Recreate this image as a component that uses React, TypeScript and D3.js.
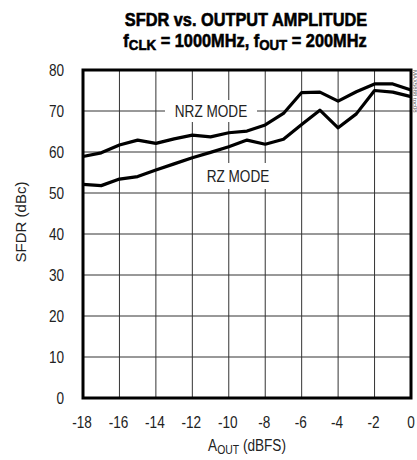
import React from "react";
import * as d3 from "d3";

const xValues = [-18, -17, -16, -15, -14, -13, -12, -11, -10, -9, -8, -7, -6, -5, -4, -3, -2, -1, 0];
const nrzValues = [58.9, 59.8, 61.7, 62.9, 62.1, 63.2, 64.1, 63.7, 64.7, 65.1, 66.6, 69.4, 74.5, 74.6, 72.4, 74.7, 76.6, 76.6, 75.1];
const rzValues = [52.1, 51.8, 53.4, 54.0, 55.6, 57.1, 58.6, 59.9, 61.3, 62.9, 61.9, 63.1, 66.7, 70.2, 65.9, 69.3, 75.0, 74.6, 73.5];
const xTicks = [-18, -16, -14, -12, -10, -8, -6, -4, -2, 0];
const yTicks = [0, 10, 20, 30, 40, 50, 60, 70, 80];

const W = 417;
const H = 460;
const left = 83, right = 411, top = 70, bottom = 398;
const font = "'Liberation Sans', Arial, sans-serif";
const SQ = 0.8;

function T(props: any) {
  const { x, y, s = SQ, children, ...rest } = props;
  return (
    <text transform={`translate(${x},${y}) scale(${s},1)`} fontFamily={font} {...rest}>
      {children}
    </text>
  );
}

export default function App() {
  const x = d3.scaleLinear().domain([-18, 0]).range([left, right]);
  const y = d3.scaleLinear().domain([0, 80]).range([bottom, top]);
  const line = d3
    .line<number>()
    .x((_, i) => x(xValues[i]))
    .y((d) => y(d));

  return (
    <svg
      width={W}
      height={H}
      style={{ position: "absolute", left: 0, top: 0, background: "#fff" }}
    >
      {/* Title */}
      <T x={246} y={26} textAnchor="middle" fontWeight="bold" fontSize={19} s={0.86} stroke="#000" strokeWidth={0.6}>
        SFDR vs. OUTPUT AMPLITUDE
      </T>
      <T x={245} y={47.4} textAnchor="middle" fontWeight="bold" fontSize={19} s={0.86} stroke="#000" strokeWidth={0.6}>
        f<tspan fontSize={15.5} dy={3}>CLK</tspan>
        <tspan dy={-3}> = 1000MHz, f</tspan>
        <tspan fontSize={15.5} dy={3}>OUT</tspan>
        <tspan dy={-3}> = 200MHz</tspan>
      </T>

      {/* Grid */}
      {xTicks.map((t) => (
        <line key={"vx" + t} x1={x(t)} x2={x(t)} y1={top} y2={bottom} stroke="#333" strokeWidth={1} />
      ))}
      {yTicks.map((t) => (
        <line key={"hy" + t} x1={left} x2={right} y1={y(t)} y2={y(t)} stroke="#333" strokeWidth={1} />
      ))}

      {/* Label backgrounds */}
      <rect x={165} y={100} width={92} height={22} fill="#fff" />
      <rect x={200} y={163} width={76} height={26} fill="#fff" />

      {/* Series */}
      <path d={line(nrzValues) || ""} fill="none" stroke="#000" strokeWidth={3.2} strokeLinejoin="round" />
      <path d={line(rzValues) || ""} fill="none" stroke="#000" strokeWidth={3.2} strokeLinejoin="round" />

      {/* Series labels */}
      <T x={211} y={117} textAnchor="middle" fontSize={17} fill="#222">
        NRZ MODE
      </T>
      <T x={238} y={182} textAnchor="middle" fontSize={17} fill="#222">
        RZ MODE
      </T>

      {/* Frame */}
      <rect x={left} y={top} width={right - left} height={bottom - top} fill="none" stroke="#000" strokeWidth={3} />

      {/* Y tick labels */}
      {yTicks.map((t) => (
        <T key={"yl" + t} x={64} y={y(t) + 6} textAnchor="end" fontSize={17} fill="#222">
          {t}
        </T>
      ))}

      {/* X tick labels */}
      {xTicks.map((t) => (
        <T key={"xl" + t} x={x(t) - (t === 0 ? 0 : 1)} y={428} textAnchor="middle" fontSize={17} fill="#222">
          {t === 0 ? "0" : "-" + Math.abs(t)}
        </T>
      ))}

      {/* Axis titles */}
      <text
        transform={`translate(26,222) rotate(-90)`}
        textAnchor="middle"
        fontFamily={font}
        fontSize={15}
        fill="#222"
      >
        SFDR (dBc)
      </text>
      <T x={247} y={451} textAnchor="middle" fontSize={17} fill="#222">
        A<tspan fontSize={13} dy={3}>OUT</tspan>
        <tspan dy={-3}> (dBFS)</tspan>
      </T>

      {/* Side note */}
      <text
        transform={`translate(413,70) rotate(90)`}
        fontFamily={font}
        fontSize={6}
        fill="#555"
      >
        MAX5888 toc08
      </text>
    </svg>
  );
}
